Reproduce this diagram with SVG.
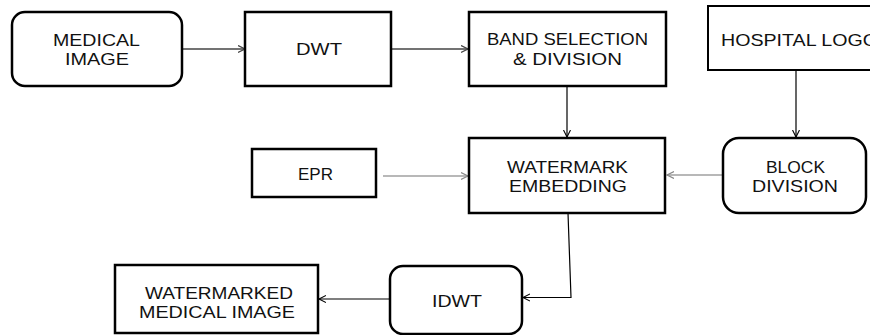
<svg xmlns="http://www.w3.org/2000/svg" width="870" height="335" viewBox="0 0 870 335">
<style>
.box{fill:#fff;stroke:#000;stroke-width:2.5}
.thin{fill:#fff;stroke:#000;stroke-width:2}
.t{font-family:"Liberation Sans",Arial,sans-serif;font-size:17px;fill:#111}
.c{fill:none;stroke-linejoin:miter}
.dk{stroke:#444;stroke-width:1.5}
.bk{stroke:#000;stroke-width:1.2}
.gr{stroke:#a0a0a0;stroke-width:1.5}
</style>
<defs>
<marker id="ad" markerUnits="userSpaceOnUse" markerWidth="10" markerHeight="10" refX="7" refY="4" orient="auto"><path d="M0,0.5 L7,4 L0,7.5" fill="none" stroke="#444" stroke-width="1.3"/></marker>
<marker id="ab" markerUnits="userSpaceOnUse" markerWidth="10" markerHeight="10" refX="7" refY="4" orient="auto"><path d="M0,0.5 L7,4 L0,7.5" fill="none" stroke="#000" stroke-width="1.1"/></marker>
<marker id="ag" markerUnits="userSpaceOnUse" markerWidth="10" markerHeight="10" refX="7" refY="4" orient="auto"><path d="M0,0.5 L7,4 L0,7.5" fill="none" stroke="#888" stroke-width="1.2"/></marker>
</defs>
<rect width="870" height="335" fill="#fff"/>
<g id="connectors">
<line class="c dk" x1="182" y1="49" x2="245" y2="49" marker-end="url(#ad)"/>
<line class="c dk" x1="391" y1="49" x2="468" y2="49" marker-end="url(#ad)"/>
<line class="c bk" x1="567" y1="86" x2="567" y2="137" marker-end="url(#ab)"/>
<line class="c bk" x1="796" y1="70" x2="796" y2="137" marker-end="url(#ab)"/>
<line class="c gr" x1="383" y1="176" x2="468" y2="176" marker-end="url(#ag)"/>
<line class="c gr" x1="723" y1="175" x2="667" y2="175" marker-end="url(#ag)"/>
<polyline class="c bk" points="568,213 571,297.5 523,297.5" marker-end="url(#ab)"/>
<line class="c bk" x1="390" y1="299" x2="319" y2="299" marker-end="url(#ab)"/>
</g>
<g id="medical-image">
<rect class="box" x="12" y="12" width="170" height="74" rx="13"/>
<text class="t" x="53" y="46" textLength="87" lengthAdjust="spacingAndGlyphs">MEDICAL</text>
<text class="t" x="65" y="65" textLength="64" lengthAdjust="spacingAndGlyphs">IMAGE</text>
</g>
<g id="dwt">
<rect class="box" x="245" y="12" width="146" height="74"/>
<text class="t" x="296" y="55" textLength="46" lengthAdjust="spacingAndGlyphs">DWT</text>
</g>
<g id="band-selection">
<rect class="box" x="469" y="12" width="197" height="74"/>
<text class="t" x="487" y="45" textLength="161" lengthAdjust="spacingAndGlyphs">BAND SELECTION</text>
<text class="t" x="513" y="65" textLength="109" lengthAdjust="spacingAndGlyphs">&amp; DIVISION</text>
</g>
<g id="hospital-logo">
<rect class="thin" x="708" y="6" width="175" height="64"/>
<text class="t" x="721" y="46" textLength="157" lengthAdjust="spacingAndGlyphs">HOSPITAL LOGO</text>
</g>
<g id="epr">
<rect class="box" x="252" y="149" width="124" height="48"/>
<text class="t" x="298" y="180" textLength="35" lengthAdjust="spacingAndGlyphs">EPR</text>
</g>
<g id="watermark-embedding">
<rect class="box" x="469" y="138" width="196" height="75"/>
<text class="t" x="507" y="173" textLength="121" lengthAdjust="spacingAndGlyphs">WATERMARK</text>
<text class="t" x="509" y="192" textLength="118" lengthAdjust="spacingAndGlyphs">EMBEDDING</text>
</g>
<g id="block-division">
<rect class="box" x="723" y="138" width="143" height="75" rx="16"/>
<text class="t" x="766" y="173" textLength="59" lengthAdjust="spacingAndGlyphs">BLOCK</text>
<text class="t" x="752" y="192" textLength="86" lengthAdjust="spacingAndGlyphs">DIVISION</text>
</g>
<g id="idwt">
<rect class="box" x="390" y="266" width="132" height="68" rx="13"/>
<text class="t" x="432" y="307" textLength="50" lengthAdjust="spacingAndGlyphs">IDWT</text>
</g>
<g id="watermarked-medical-image">
<rect class="box" x="115" y="265" width="203" height="68"/>
<text class="t" x="145" y="299" textLength="148" lengthAdjust="spacingAndGlyphs">WATERMARKED</text>
<text class="t" x="139" y="318" textLength="156" lengthAdjust="spacingAndGlyphs">MEDICAL IMAGE</text>
</g>
</svg>
